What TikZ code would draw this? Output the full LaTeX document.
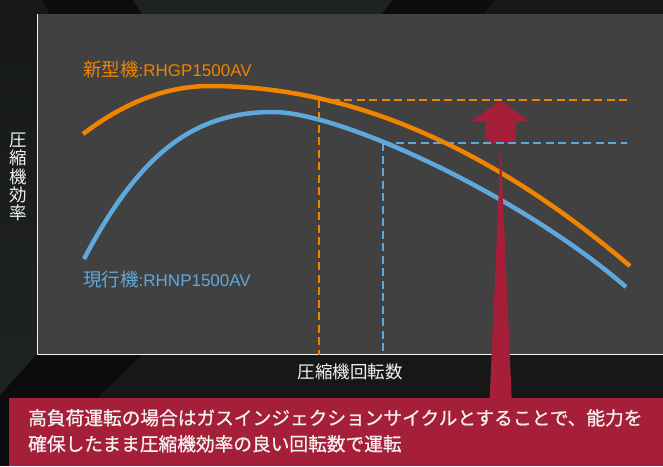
\documentclass[tikz,border=0pt]{standalone}
\usepackage{fontspec}
\setmainfont{Noto Sans CJK JP}
\newfontfamily\latinfont{Liberation Sans}
\newfontfamily\notefont[FakeBold=0.8]{Noto Sans CJK JP}
\usetikzlibrary{positioning}
\definecolor{bgmid}{HTML}{161818}
\definecolor{bglight}{HTML}{1F2223}
\definecolor{bgdark}{HTML}{0C0C0C}
\definecolor{plotgray}{HTML}{414141}
\definecolor{neworange}{HTML}{F08300}
\definecolor{oldblue}{HTML}{5FA8DC}
\definecolor{notered}{HTML}{A51F38}
\definecolor{softwhite}{HTML}{F2F2F2}

\begin{document}
\begin{tikzpicture}[x=1pt, y=-1pt, line join=round]
\tikzstyle{curve} = [line width=4.5pt]
\tikzstyle{guide} = [line width=2pt, dash pattern=on 8pt off 4.5pt]
\tikzstyle{axistext} = [text=softwhite, inner sep=0pt, font=\fontsize{17.5}{18.3}\selectfont]
\tikzstyle{curvetext} = [inner sep=0pt, anchor=west, font=\fontsize{18.5}{20}\selectfont]

\useasboundingbox (0,0) rectangle (663,466);
\fill[bgmid] (0,0) rectangle (663,466);
\shade[top color=bgmid, bottom color=bglight] (0,14) rectangle (37,354);
\fill[bgdark] (42,0) -- (133,0) -- (142,14) -- (50,14) -- cycle;
\fill[bglight] (133,0) -- (393,0) -- (382,14) -- (142,14) -- cycle;
\fill[bgdark] (393,0) -- (495,0) -- (483,14) -- (382,14) -- cycle;
\fill[bglight] (0,354) -- (37,354) -- (0,395) -- cycle;
\fill[bgdark] (37,354) -- (143,354) -- (97,398) -- (0,398) -- (0,395) -- cycle;
\fill[bgdark] (0,398) rectangle (9,466);

\coordinate (origin) at (37.5,354.5);
\coordinate (topleft) at (37.5,14);
\coordinate (bottomright) at (663,354.5);
\fill[plotgray] (topleft) rectangle (bottomright);
\draw[softwhite, line width=1.5pt] (topleft) -- (origin) -- (bottomright);

\node[axistext, align=center] (ylabel) at (18,177) {圧\\縮\\機\\効\\率};
\coordinate (xmid) at (350,354.5);
\node[axistext, below=9pt of xmid] (xlabel) {圧縮機回転数};

\node[curvetext, text=neworange] (newlabel) at (83,70) {新型機{\latinfont\fontsize{17}{20}\selectfont:RHGP1500AV}};
\node[curvetext, text=oldblue] (oldlabel) at (83,280) {現行機{\latinfont\fontsize{17}{20}\selectfont:RHNP1500AV}};

\coordinate (newpt) at (319,99.5);
\coordinate (oldpt) at (383,143.3);
\coordinate (newend) at (627,99.5);
\coordinate (oldend) at (627,143.3);

\fill[notered] (500.7,100.7) -- (530,121.7) -- (515.7,121.7) -- (515.7,143.3)
	-- (485,143.3) -- (485,121.7) -- (470,121.7) -- cycle;

\draw[guide, neworange] (newpt) -- (newpt |- origin);
\draw[guide, neworange] (newpt) -- (newend);
\draw[guide, oldblue] (oldpt) -- (oldpt |- origin);
\draw[guide, oldblue] (oldpt) -- (oldend);

\coordinate (oldpeak) at (273,112);
\coordinate (newpeak) at (210,86);
\draw[curve, oldblue] (84,259) .. controls (139,154.5) and (193,112) .. (oldpeak)
	.. controls (340,112) and (520,195) .. (626,287);
\draw[curve, neworange] (83,134) .. controls (125,102) and (167,86) .. (newpeak)
	.. controls (350,86) and (490,147) .. (630,266);

\fill[notered] (500.7,148) -- (511.8,400) -- (489.6,400) -- cycle;
\fill[notered] (9,398.3) rectangle (663,466);
\node[text=softwhite, anchor=north west, align=left, inner sep=0pt,
	font=\notefont\fontsize{18.7}{26}\selectfont] (note) at (28,409)
	{高負荷運転の場合はガスインジェクションサイクルとすることで、能力を\\確保したまま圧縮機効率の良い回転数で運転};

\end{tikzpicture}
\end{document}
